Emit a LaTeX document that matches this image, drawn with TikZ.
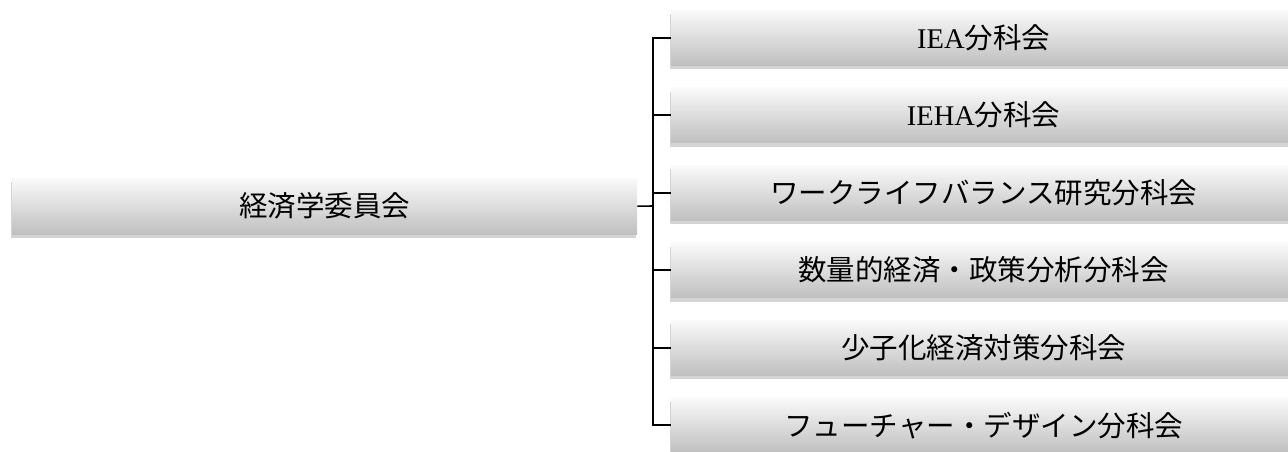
\documentclass[tikz,border=0pt]{standalone}
\usepackage{fontspec}
\setmainfont{Liberation Serif}
\newfontfamily\jp{Noto Sans CJK JP}
\usetikzlibrary{shadows}
\tikzset{
  unit/.style={anchor=north west, minimum width=625pt, inner sep=0pt,
    top color=gray!4, bottom color=gray!50, draw=none,
    drop shadow={shadow xshift=-1pt, shadow yshift=-4pt, opacity=0.45, fill=gray!75},
    font=\fontsize{28.5}{32}\selectfont},
  link/.style={line width=1.6pt, black}
}
\begin{document}
\begin{tikzpicture}[x=1pt, y=-1pt]
            \useasboundingbox (0,0) rectangle (1288,451);
            \begin{scope}
            \clip (0,0) rectangle (1288,451);
            \node[unit, minimum height=56pt] (top) at (12,178) {\jp 経済学委員会};
            \node[unit, minimum height=55pt] (s1) at (671,10) {IEA{\jp 分科会}};
            \node[unit, minimum height=55pt] (s2) at (671,87.5) {IEHA{\jp 分科会}};
            \node[unit, minimum height=55pt] (s3) at (671,165) {\jp ワークライフバランス研究分科会};
            \node[unit, minimum height=55pt] (s4) at (671,242.5) {\jp 数量的経済・政策分析分科会};
            \node[unit, minimum height=55pt] (s5) at (671,320) {\jp 少子化経済対策分科会};
            \node[unit, minimum height=55pt] (s6) at (671,397.5) {\jp フューチャー・デザイン分科会};
            \end{scope}
            \coordinate (bus) at (653,206);
            \draw[link] (top.east) -- (bus);
            \draw[link] (s1.west) -| (bus) |- (s6.west);
            \draw[link] (s2.west) -- (s2.west -| bus);
            \draw[link] (s3.west) -- (s3.west -| bus);
            \draw[link] (s4.west) -- (s4.west -| bus);
            \draw[link] (s5.west) -- (s5.west -| bus);
        \end{tikzpicture}
\end{document}
